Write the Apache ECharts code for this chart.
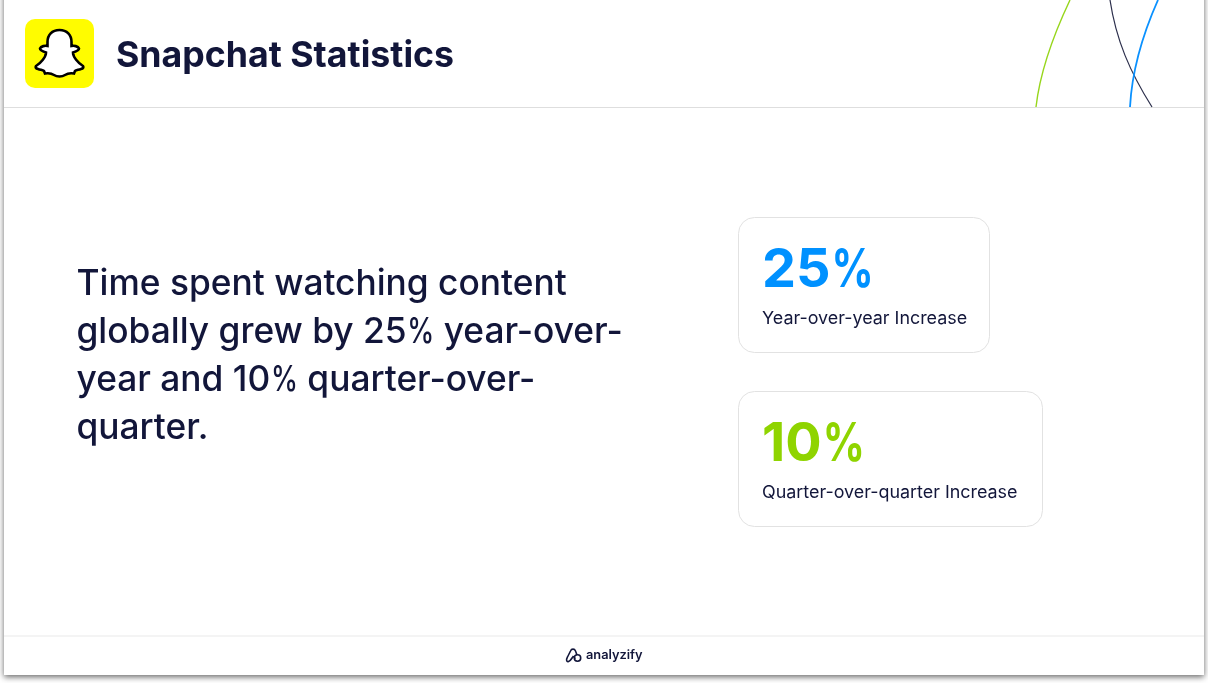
<!DOCTYPE html>
<html>
<head>
<meta charset="utf-8">
<title>Snapchat Statistics</title>
<style>
  html, body { margin: 0; padding: 0; background: #fff; }
  #chart { width: 1208px; height: 683px; }
</style>
<script src="https://cdn.jsdelivr.net/npm/echarts@6/dist/echarts.min.js"></script>
</head>
<body>
<div id="chart"></div>
<script>
const pageTitle = 'Snapchat Statistics';
const bodyLines = [
  'Time spent watching content',
  'globally grew by 25% year-over-',
  'year and 10% quarter-over-',
  'quarter.'
];
const kpiValues = [25, 10];
const kpiLabels = ['Year-over-year Increase', 'Quarter-over-quarter Increase'];
const kpiColors = ['#0091ff', '#8fd400'];
const brandName = 'analyzify';

const INK = '#12163a';
const FONT = 'Inter, sans-serif';
const PCT_SCALE = 0.77; // the reference has a narrower % than the installed Inter

// logo outlines, drawn by hand
const ghostPath = 'M59.5 30 C52 30 47.5 35 47.5 42 L47.5 46 C45 45.5 41 46 40 48.5 C40 50.5 43 51.5 46 52.5 C46 57 41 63 36 66 C35 67.5 36 68.5 38 69 C41 70 43 70 44 71 L45 73.5 C48 73 51 73 54 75 C57 77 62 77 65 75 C68 73 71 73 74 73.5 L75 71 C76 70 78 70 81 69 C83 68.5 84 67.5 83 66 C78 63 73 57 73 52.5 C76 51.5 79 50.5 79 48.5 C78 46 74 45.5 71.5 46 L71.5 42 C71.5 35 67 30 59.5 30 Z';
const brandPath = 'M567.5 657 L570.5 651 C571.5 648.5 574.5 648.5 575.5 651 L577 655 M567.5 657 C565.5 660.5 567 662 568.5 661.5 C570.5 661 572 658 573.5 656 M575 659 L574 656';
echarts.graphic.registerShape('ghost', echarts.graphic.extendPath(ghostPath));
echarts.graphic.registerShape('brandMark', echarts.graphic.extendPath(brandPath));

const measureCtx = document.createElement('canvas').getContext('2d');

function curve(x1, y1, cx1, cy1, cx2, cy2, x2, y2, color, width) {
  return {
    type: 'bezierCurve',
    shape: { x1: x1, y1: y1, cpx1: cx1, cpy1: cy1, cpx2: cx2, cpy2: cy2, x2: x2, y2: y2 },
    style: { fill: null, stroke: color, lineWidth: width }
  };
}

// draws a line of text, squeezing each % sign
function pushLine(list, text, x, y, size, weight, fill) {
  const font = weight + ' ' + size + 'px ' + FONT;
  measureCtx.font = font;
  let cursor = x;
  text.split(/(%)/).forEach(function (part) {
    if (!part) return;
    const isPct = part === '%';
    if (isPct) cursor += size * 0.02;
    list.push({
      type: 'text',
      x: cursor,
      y: y,
      scaleX: isPct ? PCT_SCALE : 1,
      style: { x: 0, y: 0, text: part, font: font, fill: fill, textVerticalAlign: 'middle' }
    });
    cursor += measureCtx.measureText(part).width * (isPct ? PCT_SCALE : 1);
  });
}

const elements = [];

// slide + shadow
elements.push({
  type: 'rect',
  shape: { x: 4, y: -10, width: 1200, height: 685 },
  style: { fill: '#fff', shadowBlur: 6, shadowColor: 'rgba(0,0,0,0.6)', shadowOffsetY: 2 }
});

// header / footer rules
elements.push({ type: 'line', shape: { x1: 4, y1: 107.5, x2: 1204, y2: 107.5 }, style: { stroke: '#dedede', lineWidth: 1 } });
elements.push({ type: 'line', shape: { x1: 4, y1: 636, x2: 1204, y2: 636 }, style: { stroke: '#f1f1f1', lineWidth: 1.5 } });

// corner curves
elements.push(curve(1070, 0, 1052, 38, 1040, 72, 1036, 107, '#97d61c', 1.4));
elements.push(curve(1110, 0, 1116, 40, 1130, 72, 1152, 107, '#2c2f4c', 1.2));
elements.push(curve(1158, 0, 1142, 36, 1132, 70, 1130, 107, '#0a91ff', 1.8));

// logo
elements.push({ type: 'rect', shape: { x: 25, y: 19, width: 69, height: 69, r: 10 }, style: { fill: '#fffc00' } });
elements.push({ type: 'ghost', style: { fill: '#fff', stroke: '#000', lineWidth: 2.6 } });

// title
elements.push({
  type: 'text',
  style: { x: 116, y: 56.5, text: pageTitle, font: '700 35.7px ' + FONT, fill: INK, textVerticalAlign: 'middle' }
});

// body copy
bodyLines.forEach(function (line, i) {
  pushLine(elements, line, 76.5, 284 + i * 48, 35.3, 500, INK);
});

// kpi cards
const cardBoxes = [
  { y: 217.5, w: 251 },
  { y: 391.5, w: 304 }
];
kpiValues.forEach(function (v, i) {
  const box = cardBoxes[i];
  elements.push({
    type: 'rect',
    shape: { x: 738.5, y: box.y, width: box.w, height: 135, r: 16 },
    style: { fill: '#fff', stroke: '#e2e2e2', lineWidth: 1 }
  });
  pushLine(elements, v + '%', 762, box.y + 53, 54, 700, kpiColors[i]);
  elements.push({
    type: 'text',
    style: { x: 762, y: box.y + 101, text: kpiLabels[i], font: '400 17.9px ' + FONT, fill: INK, textVerticalAlign: 'middle' }
  });
});

// footer brand
elements.push({ type: 'brandMark', style: { fill: null, stroke: INK, lineWidth: 1.6 } });
elements.push({ type: 'circle', shape: { cx: 577.5, cy: 658, r: 3.2 }, style: { fill: null, stroke: INK, lineWidth: 1.6 } });
elements.push({
  type: 'text',
  style: { x: 586, y: 655, text: brandName, font: '600 12.8px ' + FONT, fill: INK, textVerticalAlign: 'middle' }
});

const myChart = echarts.init(document.getElementById('chart'));
myChart.setOption({
  animation: false,
  backgroundColor: '#fff',
  graphic: { elements: elements }
});
</script>
</body>
</html>
